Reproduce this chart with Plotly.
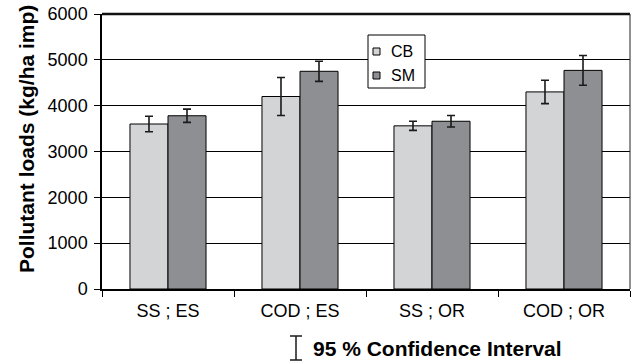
import plotly.graph_objects as go

categories = ["SS ; ES", "COD ; ES", "SS ; OR", "COD ; OR"]
cb_values = [3600, 4200, 3560, 4300]
cb_ci = [170, 415, 100, 255]
sm_values = [3780, 4750, 3660, 4770]
sm_ci = [145, 220, 125, 325]
y_ticks = [0, 1000, 2000, 3000, 4000, 5000, 6000]
series_names = ["CB", "SM"]
series_colors = ["#d3d4d6", "#8e8f93"]

W, H = 632, 363
L, R, T, B = 102, 2, 14, 74
pw, ph = W - L - R, H - T - B

def px_x(x):
    return (x - L) / pw

def px_y(y):
    return (H - B - y) / ph

font = "Liberation Sans"

fig = go.Figure()
for name, vals, ci, col in [(series_names[0], cb_values, cb_ci, series_colors[0]),
                            (series_names[1], sm_values, sm_ci, series_colors[1])]:
    fig.add_trace(go.Bar(
        x=categories, y=vals, name=name,
        marker=dict(color=col, line=dict(color="#000000", width=1)),
        error_y=dict(type="data", array=ci, visible=True, color="#1a1a1a", thickness=1.6, width=4),
        showlegend=False,
    ))

fig.update_layout(
    width=W, height=H,
    margin=dict(l=L, r=R, t=T, b=B, pad=0),
    paper_bgcolor="white", plot_bgcolor="white",
    barmode="group", bargap=0.424, bargroupgap=0,
    font=dict(family=font, size=18, color="#000000"),
    showlegend=False,
    xaxis=dict(
        type="category", tickson="boundaries", ticks="outside", ticklen=6,
        tickcolor="#000000", tickwidth=1, showline=True, linecolor="#000000",
        linewidth=1.5, showgrid=False, tickfont=dict(size=18), ticklabelstandoff=5,
    ),
    yaxis=dict(
        range=[0, 6000], tickvals=y_ticks, ticks="outside", ticklen=6,
        tickcolor="#000000", showline=True, linecolor="#000000", linewidth=1.5,
        showgrid=True, gridcolor="#000000", gridwidth=1, zeroline=False,
        tickfont=dict(size=18), ticklabelstandoff=3,
    ),
)

# frame top & right
fig.add_shape(type="line", xref="paper", yref="paper", x0=0, x1=1, y0=1, y1=1,
              line=dict(color="#111111", width=2.5))
fig.add_shape(type="line", xref="paper", yref="paper", x0=1, x1=1, y0=0, y1=1,
              line=dict(color="#222222", width=1))

# custom legend box
fig.add_shape(type="rect", xref="paper", yref="paper",
              x0=px_x(368), x1=px_x(425), y0=px_y(88), y1=px_y(35),
              fillcolor="white", line=dict(color="#000000", width=1), layer="above")
for i, (name, col) in enumerate(zip(series_names, series_colors)):
    cy = 51.5 + i * 24
    fig.add_shape(type="rect", xref="paper", yref="paper",
                  x0=px_x(373), x1=px_x(380), y0=px_y(cy + 3.5), y1=px_y(cy - 3.5),
                  fillcolor=col, line=dict(color="#000000", width=1), layer="above")
    fig.add_annotation(text=name, xref="paper", yref="paper", x=px_x(389), y=px_y(cy),
                       showarrow=False, xanchor="left", yanchor="middle",
                       font=dict(size=16, family=font))

# y title
fig.add_annotation(text="<b>Pollutant loads (kg/ha imp)</b>", xref="paper", yref="paper",
                   x=px_x(26), y=px_y(139), textangle=-90, showarrow=False,
                   xanchor="center", yanchor="middle", font=dict(size=21, family=font))

# CI legend symbol
cx = px_x(296)
y_top, y_bot = px_y(336), px_y(360)
hw = 6 / pw
for seg in [(cx, y_top, cx, y_bot), (cx - hw, y_top, cx + hw, y_top), (cx - hw, y_bot, cx + hw, y_bot)]:
    fig.add_shape(type="line", xref="paper", yref="paper", x0=seg[0], y0=seg[1], x1=seg[2], y1=seg[3],
                  line=dict(color="#1a1a1a", width=1.5))
fig.add_annotation(text="<b>95 % Confidence Interval</b>", xref="paper", yref="paper",
                   x=px_x(311), y=px_y(348), showarrow=False, xanchor="left", yanchor="middle",
                   font=dict(size=21, family=font))

fig.write_html("out.html", config={"displayModeBar": False},
               post_script="document.body.style.margin='0px';")
